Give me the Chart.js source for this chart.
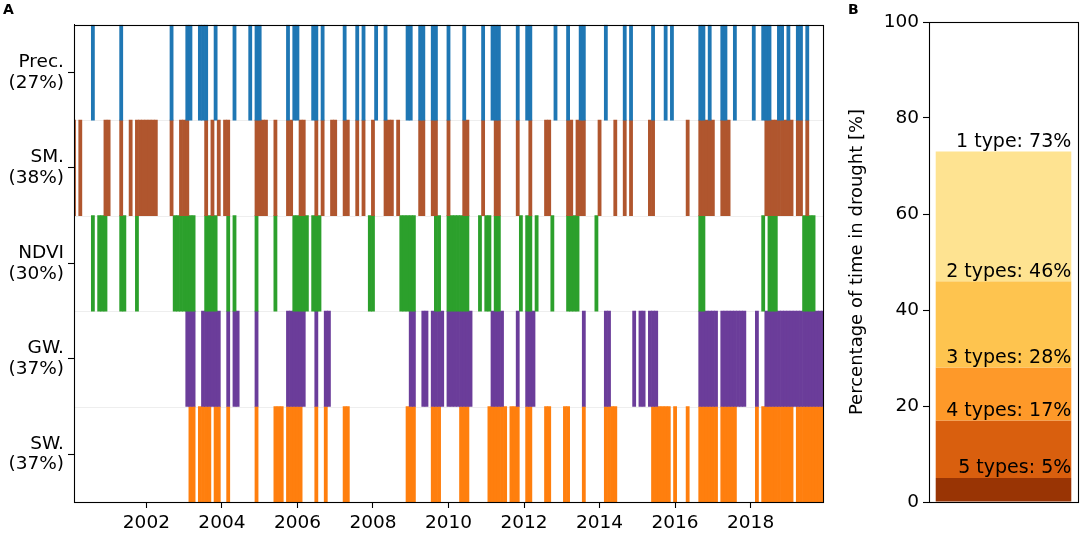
<!DOCTYPE html>
<html>
<head>
<meta charset="utf-8">
<script src="https://cdn.jsdelivr.net/npm/chart.js@4.4.1/dist/chart.umd.min.js"></script>
<style>
  body { margin: 0; background: #fff; }
  #wrap { position: relative; width: 1084px; height: 536px; font-family: 'DejaVu Sans', sans-serif; }
  canvas { position: absolute; top: 0; }
  .panel { position: absolute; top: 2px; font-weight: bold; font-size: 14px; line-height: 15px; }
</style>
</head>
<body>
<div id="wrap">
  <canvas id="chart-a" width="840" height="536" style="left:0"></canvas>
  <canvas id="chart-b" width="244" height="536" style="left:840px"></canvas>
  <div class="panel" style="left:3px">A</div>
  <div class="panel" style="left:848px">B</div>
</div>
<script>
// month index 0 = Feb 2000, last index 238 = Dec 2019
const startYear = 2000;
const startMonth = 2;
const lastIndex = 238;
const yearTicks = [2002, 2004, 2006, 2008, 2010, 2012, 2014, 2016, 2018];

const rowNames = ['Prec.', 'SM.', 'NDVI', 'GW.', 'SW.'];
const rowShares = [27, 38, 30, 37, 37];
const rowColors = ['#1f77b4', '#b0562e', '#2ca02c', '#6b3d9a', '#ff7f0e'];

// months (index) in drought, per indicator
const precMonths = [6, 15, 31, 36, 37, 40, 41, 42, 45, 51, 56, 58, 59, 68, 70, 71, 76, 77, 79,
  86, 90, 92, 96, 99, 106, 107, 110, 111, 114, 115, 119, 124, 130, 133, 134, 135, 141, 144, 145,
  153, 157, 161, 162, 169, 175, 177, 184, 188, 190, 199, 200, 202, 206, 207, 210, 216, 219, 220,
  221, 224, 225, 227, 230, 231, 233];
const smMonths = [0, 2, 10, 11, 15, 18, 20, 21, 22, 23, 24, 25, 26, 31, 34, 35, 36, 42, 44, 46,
  48, 49, 58, 59, 60, 61, 64, 68, 69, 72, 73, 77, 79, 82, 83, 86, 87, 90, 92, 95, 99, 100, 101,
  103, 110, 111, 114, 115, 119, 124, 125, 130, 134, 135, 141, 145, 150, 151, 157, 158, 160, 161,
  162, 167, 172, 175, 177, 183, 184, 195, 199, 200, 201, 202, 203, 206, 207, 208, 220, 221, 222,
  223, 224, 225, 226, 227, 228, 230, 231, 233];
const ndviMonths = [6, 8, 9, 10, 15, 16, 20, 32, 33, 34, 35, 36, 37, 38, 42, 43, 44, 45, 49, 51,
  58, 64, 70, 71, 72, 73, 74, 76, 77, 78, 94, 95, 104, 105, 106, 107, 108, 115, 116, 119, 120,
  121, 122, 123, 124, 125, 129, 131, 132, 134, 135, 142, 144, 145, 147, 152, 157, 158, 159, 160,
  166, 199, 200, 219, 221, 222, 223, 232, 233, 234, 235];
const gwMonths = [36, 37, 38, 41, 42, 43, 44, 45, 46, 49, 51, 52, 58, 68, 69, 70, 71, 72, 73, 77,
  80, 81, 107, 108, 111, 112, 114, 115, 116, 117, 119, 120, 121, 122, 123, 124, 125, 126, 133,
  134, 135, 136, 141, 144, 145, 146, 162, 169, 170, 178, 180, 181, 183, 184, 185, 199, 200, 201,
  202, 203, 204, 206, 207, 208, 209, 210, 211, 212, 213, 217, 220, 221, 222, 223, 224, 225, 226,
  227, 228, 229, 230, 231, 232, 233, 234, 235, 236, 237, 238];
const swMonths = [37, 38, 40, 41, 42, 43, 45, 46, 49, 58, 64, 65, 66, 68, 69, 70, 71, 72, 77, 80,
  86, 87, 106, 107, 108, 114, 115, 116, 123, 124, 125, 132, 133, 134, 135, 136, 137, 139, 140,
  141, 144, 145, 150, 151, 156, 157, 162, 169, 170, 171, 172, 184, 185, 186, 187, 188, 189, 191,
  195, 199, 200, 201, 202, 203, 204, 206, 207, 208, 209, 210, 217, 219, 220, 221, 222, 223, 224,
  225, 226, 227, 228, 230, 231, 232, 233, 234, 235, 236, 237, 238];
const rowMonths = [precMonths, smMonths, ndviMonths, gwMonths, swMonths];

// panel B: share of time with at least n drought types
const levelLabels = ['1 type', '2 types', '3 types', '4 types', '5 types'];
const levelShares = [73, 46, 28, 17, 5];
const levelColors = ['#fee391', '#fec44f', '#fe9929', '#d95f0e', '#993404'];

Chart.defaults.font.family = "'DejaVu Sans', sans-serif";
Chart.defaults.color = '#000';

function monthIndex(year, month) {
  return (year - startYear) * 12 + (month - startMonth);
}

// box round the plot area, plus faint lines between rows
const framePlugin = {
  id: 'frame',
  beforeDatasetsDraw(chart, args, opts) {
    const {ctx, chartArea: a, scales} = chart;
    if (!opts.separators) return;
    ctx.save();
    ctx.strokeStyle = '#eeeeee';
    ctx.lineWidth = 1;
    opts.separators.forEach(v => {
      const py = Math.round(scales.y.getPixelForValue(v)) + 0.5;
      ctx.beginPath();
      ctx.moveTo(a.left, py);
      ctx.lineTo(a.right, py);
      ctx.stroke();
    });
    ctx.restore();
  },
  afterDatasetsDraw(chart) {
    const {ctx, chartArea: a} = chart;
    ctx.save();
    ctx.strokeStyle = '#000';
    ctx.lineWidth = 1.1;
    ctx.strokeRect(Math.round(a.left) + 0.5, Math.round(a.top) + 0.5,
      Math.round(a.right - a.left), Math.round(a.bottom - a.top));
    ctx.restore();
  }
};

const levelLabelPlugin = {
  id: 'levelLabels',
  afterDatasetsDraw(chart) {
    const {ctx, scales: {y}} = chart;
    ctx.save();
    ctx.font = "19px 'DejaVu Sans'";
    ctx.fillStyle = '#000';
    ctx.textAlign = 'right';
    ctx.textBaseline = 'bottom';
    chart.data.datasets.forEach((ds, i) => {
      const bar = chart.getDatasetMeta(i).data[0];
      const right = bar.x + bar.width / 2;
      ctx.fillText(levelLabels[i] + ': ' + levelShares[i] + '%', right, y.getPixelForValue(levelShares[i]));
    });
    ctx.restore();
  }
};

const datasetsA = rowNames.map((name, i) => {
  const band = rowNames.length - 1 - i;
  return {
    label: name,
    data: rowMonths[i].map(m => ({x: m, y: [band, band + 1]})),
    backgroundColor: rowColors[i],
    borderWidth: 0,
    grouped: false,
    barPercentage: 1,
    categoryPercentage: 1,
    clip: 0
  };
});

new Chart(document.getElementById('chart-a'), {
  type: 'bar',
  data: {datasets: datasetsA},
  plugins: [framePlugin],
  options: {
    responsive: false,
    animation: false,
    events: [],
    layout: {padding: {left: 0, right: 17, top: 22, bottom: 0}},
    plugins: {
      legend: {display: false},
      tooltip: {enabled: false},
      frame: {separators: rowNames.slice(1).map((n, i) => i + 1)}
    },
    scales: {
      x: {
        type: 'linear',
        min: 0,
        max: lastIndex,
        offset: false,
        afterBuildTicks: s => { s.ticks = yearTicks.map(y => ({value: monthIndex(y, 1)})); },
        afterFit: s => { s.height = 34; },
        ticks: {
          autoSkip: false, maxRotation: 0, padding: 4,
          font: {size: 18.5},
          callback: (v, i) => String(yearTicks[i])
        },
        grid: {drawOnChartArea: false, offset: false, tickLength: 6, tickColor: '#000', tickWidth: 1.1},
        border: {color: '#000'}
      },
      y: {
        type: 'linear',
        min: 0,
        max: rowNames.length,
        afterBuildTicks: s => { s.ticks = rowNames.map((n, i) => ({value: rowNames.length - 0.5 - i})); },
        afterFit: s => { s.width = 74; },
        ticks: {
          autoSkip: false, padding: 4,
          font: {size: 18.5, lineHeight: 1.12},
          callback: (v, i) => [rowNames[i], '(' + rowShares[i] + '%)']
        },
        grid: {drawOnChartArea: false, tickLength: 6, tickColor: '#000', tickWidth: 1.1},
        border: {color: '#000'}
      }
    }
  }
});

const datasetsB = levelLabels.map((lab, i) => ({
  label: lab,
  data: [[levelShares[i + 1] || 0, levelShares[i]]],
  backgroundColor: levelColors[i],
  borderWidth: 0,
  grouped: false,
  barPercentage: 0.91,
  categoryPercentage: 1,
  clip: 0
}));

new Chart(document.getElementById('chart-b'), {
  type: 'bar',
  data: {labels: [''], datasets: datasetsB},
  plugins: [framePlugin, levelLabelPlugin],
  options: {
    responsive: false,
    animation: false,
    events: [],
    layout: {padding: {left: 0, right: 6, top: 22, bottom: 34}},
    plugins: {legend: {display: false}, tooltip: {enabled: false}},
    scales: {
      x: {display: false},
      y: {
        min: 0,
        max: 100,
        afterFit: s => { s.width = 89; },
        ticks: {stepSize: 20, padding: 4, font: {size: 18.5}},
        grid: {drawOnChartArea: false, tickLength: 6, tickColor: '#000', tickWidth: 1.1},
        border: {color: '#000'},
        title: {
          display: true,
          text: 'Percentage of time in drought [%]',
          font: {size: 18},
          padding: {top: 7, bottom: 0}
        }
      }
    }
  }
});
</script>
</body>
</html>
